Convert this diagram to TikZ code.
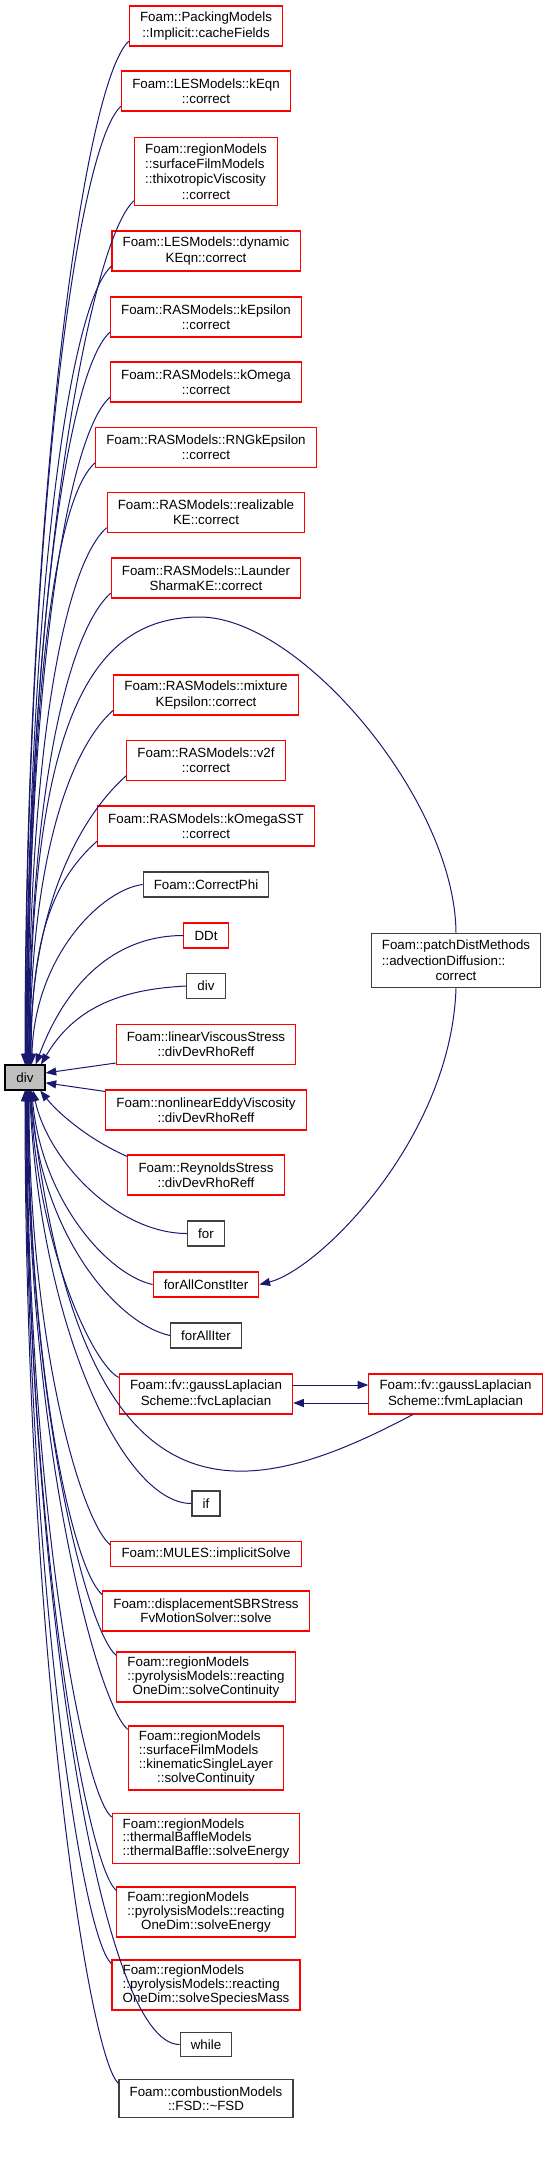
\documentclass[tikz,border=0pt]{standalone}
\usepackage{fontspec}
\setmainfont{Liberation Sans}
\usetikzlibrary{arrows.meta}
\definecolor{edgeblue}{RGB}{25,25,112}
\definecolor{boxgray}{RGB}{191,191,191}
\definecolor{boxdark}{RGB}{64,64,64}
\newcommand{\midline}[1]{\hspace*{\fill}#1\hspace*{\fill}}

\begin{document}
\begin{tikzpicture}[x=0.75pt, y=0.75pt, >={Triangle[length=8pt,width=6pt]},
    box/.style={line width=0.8pt, align=center, inner xsep=8pt, inner ysep=0pt, font=\fontsize{10}{11.5}\selectfont},
    redbox/.style={box, draw=red},
    blackbox/.style={box, draw=boxdark},
    tight/.style={font=\fontsize{10}{10.3}\selectfont},
    one/.style={minimum height=18.75pt},
    two/.style={minimum height=30pt},
    three/.style={minimum height=37.5pt},
    four/.style={minimum height=49pt},
    call/.style={->, draw=edgeblue, line width=0.75pt}]

    \useasboundingbox (0,0) rectangle (551,-2171);

    % gerufene Funktion
    \node[box, draw=black, fill=boxgray, one, minimum width=30pt] (div) at (25,-1077.5) {div};

    % Aufrufer
    \node[redbox, two] (cachefields) at (206,-26) {Foam::PackingModels\\::Implicit::cacheFields};
    \node[redbox, two] (keqn) at (206,-91) {Foam::LESModels::kEqn\\::correct};
    \node[redbox, four, minimum height=51pt, align=left] (thixo) at (206,-171.5) {Foam::regionModels\\::surfaceFilmModels\\::thixotropicViscosity\\\midline{::correct}};
    \node[redbox, two] (dynkeqn) at (206,-251) {Foam::LESModels::dynamic\\KEqn::correct};
    \node[redbox, two] (kepsilon) at (206,-317) {Foam::RASModels::kEpsilon\\::correct};
    \node[redbox, two] (komega) at (206,-382) {Foam::RASModels::kOmega\\::correct};
    \node[redbox, two] (rngkeps) at (206,-447.5) {Foam::RASModels::RNGkEpsilon\\::correct};
    \node[redbox, two] (realizable) at (206,-512.5) {Foam::RASModels::realizable\\KE::correct};
    \node[redbox, two] (launder) at (206,-578) {Foam::RASModels::Launder\\SharmaKE::correct};
    \node[redbox, two] (mixture) at (206,-695) {Foam::RASModels::mixture\\KEpsilon::correct};
    \node[redbox, two] (vtwof) at (206,-760.5) {Foam::RASModels::v2f\\::correct};
    \node[redbox, two] (komegasst) at (206,-826) {Foam::RASModels::kOmegaSST\\::correct};
    \node[blackbox, one] (correctphi) at (206,-884.5) {Foam::CorrectPhi};
    \node[redbox, one] (ddt) at (206,-935.5) {DDt};
    \node[blackbox, one] (divb) at (206,-986) {div};
    \node[redbox, two] (linvisc) at (206,-1044.5) {Foam::linearViscousStress\\::divDevRhoReff};
    \node[redbox, two] (nonlinear) at (206,-1110) {Foam::nonlinearEddyViscosity\\::divDevRhoReff};
    \node[redbox, two] (reynolds) at (206,-1175) {Foam::ReynoldsStress\\::divDevRhoReff};
    \node[blackbox, one] (forloop) at (206,-1233.5) {for};
    \node[redbox, one] (forallconst) at (206,-1284.5) {forAllConstIter};
    \node[blackbox, one] (foralliter) at (206,-1335.5) {forAllIter};
    \node[redbox, two] (fvc) at (206,-1394) {Foam::fv::gaussLaplacian\\Scheme::fvcLaplacian};
    \node[blackbox, one] (ifnode) at (206,-1503.5) {if};
    \node[redbox, one] (implicit) at (206,-1554) {Foam::MULES::implicitSolve};
    \node[redbox, two, tight] (sbr) at (206,-1611) {Foam::displacementSBRStress\\FvMotionSolver::solve};
    \node[redbox, three, tight, align=left] (pyrocont) at (206,-1677) {Foam::regionModels\\::pyrolysisModels::reacting\\\midline{OneDim::solveContinuity}};
    \node[redbox, four, tight, minimum height=48pt, align=left] (kinematic) at (206,-1758) {Foam::regionModels\\::surfaceFilmModels\\::kinematicSingleLayer\\\midline{::solveContinuity}};
    \node[redbox, three, tight, align=left] (baffle) at (206,-1838.5) {Foam::regionModels\\::thermalBaffleModels\\\midline{::thermalBaffle::solveEnergy}};
    \node[redbox, three, tight, align=left] (pyroenergy) at (206,-1912) {Foam::regionModels\\::pyrolysisModels::reacting\\\midline{OneDim::solveEnergy}};
    \node[redbox, three, tight, align=left] (species) at (206,-1985) {Foam::regionModels\\::pyrolysisModels::reacting\\\midline{OneDim::solveSpeciesMass}};
    \node[blackbox, one, minimum height=17.5pt] (whileloop) at (206,-2044.5) {while};
    \node[blackbox, tight, minimum height=28pt] (fsd) at (206,-2098.5) {Foam::combustionModels\\::FSD::\textasciitilde FSD};

    % zweite Spalte
    \node[blackbox, minimum height=41pt, align=left] (patch) at (456,-960.5) {Foam::patchDistMethods\\::advectionDiffusion::\\\midline{correct}};
    \node[redbox, two] (fvm) at (455.5,-1394) {Foam::fv::gaussLaplacian\\Scheme::fvmLaplacian};

    % Aufrufe von oben
    \foreach \n/\h/\s in {cachefields/560/0, keqn/530/0.4, thixo/475/0.8, dynkeqn/440/1.2,
        kepsilon/400/1.6, komega/370/2, rngkeps/330/2.4, realizable/300/2.8,
        launder/260/3.2, mixture/200/3.8, vtwof/160/4.2, komegasst/125/4.6}
        \draw[call] ([yshift=4pt]\n.south west) .. controls +(-45,-40) and +(0,\h) .. ([xshift=\s pt]div.north);
    \draw[call] (patch.north) .. controls (455,-800) and (300,-617) .. (200,-617)
        .. controls (100,-617) and (30,-700) .. ([xshift=3.5pt]div.north);
    \draw[call] (correctphi.west) .. controls +(-40,-5) and +(3,110) .. ([xshift=5pt]div.north);
    \draw[call] (ddt.west) .. controls +(-70,0) and +(30,80) .. ([xshift=8pt]div.north);
    \draw[call] (divb.west) .. controls +(-60,-3) and +(35,60) .. ([xshift=12pt]div.north);

    % seitlich
    \draw[call] ([yshift=1.5pt]linvisc.south west) -- ([yshift=3.4pt]div.east);
    \draw[call] ([yshift=-1.5pt]nonlinear.north west) -- ([yshift=-4pt]div.east);
    \draw[call] ([yshift=-1.5pt]reynolds.north west) .. controls +(-35,15) and +(20,-25) .. ([xshift=-4pt]div.south east);

    % Aufrufe von unten
    \draw[call] (forloop.west) .. controls +(-70,0) and +(15,-70) .. ([xshift=6pt]div.south);
    \draw[call] (forallconst.west) .. controls +(-45,10) and +(10,-110) .. ([xshift=5pt]div.south);
    \draw[call] (foralliter.west) .. controls +(-55,12) and +(8,-140) .. ([xshift=4.5pt]div.south);
    \draw[call] ([yshift=-3pt]fvc.north west) .. controls +(-25,12) and +(8,-160) .. ([xshift=4pt]div.south);
    \draw[call] ([xshift=-32pt]fvm.south) .. controls +(-170,-90) and +(50,-450) .. ([xshift=3.8pt]div.south);
    \draw[call] (ifnode.west) .. controls +(-70,0) and +(10,-230) .. ([xshift=3.5pt]div.south);
    \foreach \n/\h/\s in {implicit/250/3, sbr/275/2.6, pyrocont/310/2.2, kinematic/355/1.8,
        baffle/400/1.4, pyroenergy/440/1, species/480/0.6, fsd/550/0}
        \draw[call] ([yshift=-3pt]\n.north west) .. controls +(-30,25) and +(0,-\h) .. ([xshift=\s pt]div.south);
    \draw[call] (whileloop.west) .. controls +(-80,0) and +(3,-500) .. ([xshift=0.3pt]div.south);

    % rechte Spalte
    \draw[call] (patch.south) .. controls +(-5,-150) and +(60,15) .. (forallconst.east);
    \draw[call] ([yshift=6.75pt]fvc.east) -- ([yshift=6.75pt]fvm.west);
    \draw[call] ([yshift=-6.75pt]fvm.west) -- ([yshift=-6.75pt]fvc.east);
\end{tikzpicture}
\end{document}
